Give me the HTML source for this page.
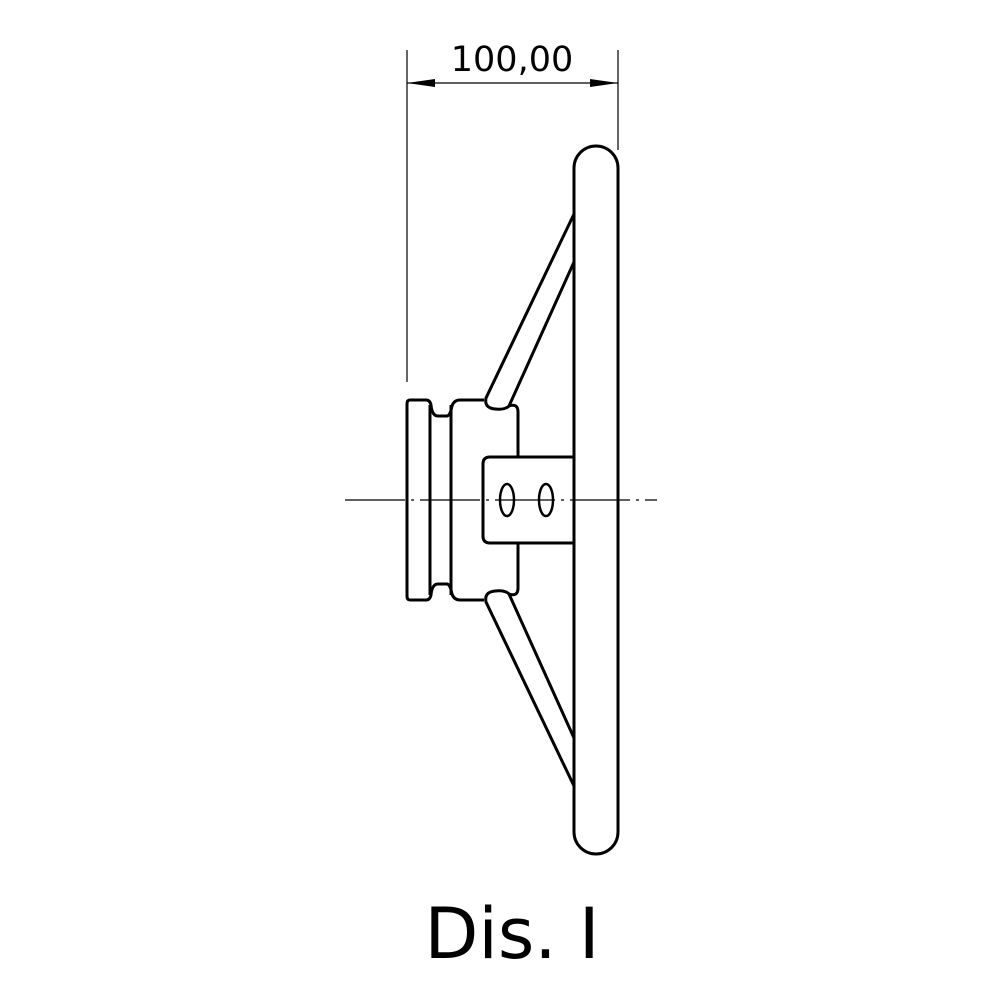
<!DOCTYPE html>
<html><head><style>body{margin:0;background:#fff}svg{display:block}</style></head><body>
<svg width="1000" height="1000" viewBox="0 0 1000 1000" xmlns="http://www.w3.org/2000/svg">
<g fill="none" stroke="#000" stroke-width="1.2">
<line x1="407" y1="50" x2="407" y2="382"/>
<line x1="618" y1="50" x2="618" y2="150"/>
<line x1="407" y1="83" x2="618" y2="83"/>
<line x1="345" y1="500" x2="657" y2="500" stroke-dasharray="60,6,3,6"/>
</g>
<polygon points="407,83 435,79 435,87" fill="#000"/>
<polygon points="618,83 590,79 590,87" fill="#000"/>
<text x="512" y="71" font-family="DejaVu Sans, sans-serif" font-size="35" text-anchor="middle">100,00</text>
<g fill="none" stroke="#000" stroke-width="3" stroke-linejoin="round">
<path d="M574,168 A22,22 0 0 1 618,168 L618,832 A22,22 0 0 1 574,832 Z"/>
<path d="M410,400 L426,400 Q430,400 431,405 Q432,416 438,416 L447,416 Q450,416 452,406 Q454,400 460,400 L484,400"/>
<path d="M410,600 L426,600 Q430,600 431,595 Q432,584 438,584 L447,584 Q450,584 452,594 Q454,600 460,600 L484,600"/>
<path d="M410,400 Q407,400 407,404 L407,596 Q407,600 410,600"/>
<line x1="430" y1="405" x2="430" y2="595"/>
<line x1="451" y1="405" x2="451" y2="595"/>
<path d="M574,214 L486,398 Q484,408 495,409 Q505,410 509,406 L574,262"/>
<path d="M509,406 Q518,403 518,412 L518,457"/>
<path d="M574,786 L486,602 Q484,592 495,591 Q505,590 509,594 L574,738"/>
<path d="M509,594 Q518,597 518,588 L518,543"/>
<path d="M574,457 L490,457 Q483,457 483,464 L483,536 Q483,543 490,543 L574,543"/>
<ellipse cx="507" cy="500" rx="7" ry="16" stroke-width="2.5"/>
<ellipse cx="546" cy="500" rx="7" ry="16" stroke-width="2.5"/>
</g>
<text x="512" y="958" font-family="DejaVu Sans, sans-serif" font-size="70" text-anchor="middle">Dis. I</text>
</svg>
</body></html>
